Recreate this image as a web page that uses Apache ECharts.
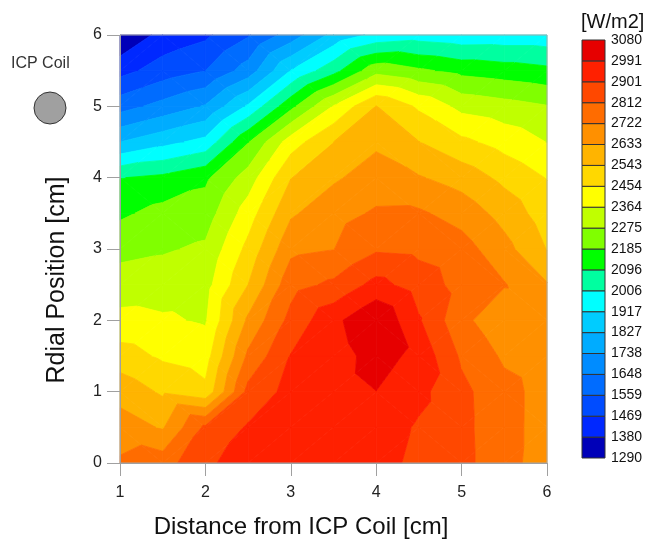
<!DOCTYPE html>
<html>
<head>
<meta charset="utf-8">
<script src="https://cdn.jsdelivr.net/npm/echarts@6/dist/echarts.min.js"></script>
<style>
  html, body { margin: 0; padding: 0; background: #ffffff; }
  #chart { width: 648px; height: 540px; }
</style>
</head>
<body>
<div id="chart"></div>
<script>
// Measurement nodes: distance from the ICP coil [cm] and radial position [cm]
const distances = [1, 1.5, 2, 2.5, 3, 3.5, 4, 4.5, 5, 5.5, 6];
const radialPositions = [0, 0.5, 1, 1.5, 2, 2.5, 3, 3.5, 4, 4.5, 5, 5.5, 6];

// Heat flux [W/m2] along each radial position, one value per distance
const fluxR00 = [2735, 2770, 2890, 2930, 2950, 2950, 2940, 2875, 2841, 2749, 2685];
const fluxR05 = [2675, 2625, 2830, 2910, 2950, 2955, 2950, 2890, 2838, 2749, 2690];
const fluxR10 = [2600, 2530, 2475, 2840, 2930, 2950, 2990, 2925, 2835, 2750, 2690];
const fluxR15 = [2494, 2440, 2414, 2740, 2905, 2945, 3030, 2964, 2798, 2708, 2680];
const fluxR20 = [2390, 2375, 2355, 2650, 2840, 2967, 3075, 2910, 2745, 2660, 2665];
const fluxR25 = [2317, 2325, 2330, 2543, 2780, 2830, 2930, 2860, 2780, 2728, 2640];
const fluxR30 = [2248, 2265, 2290, 2480, 2700, 2720, 2800, 2790, 2760, 2664, 2540];
const fluxR35 = [2169, 2215, 2230, 2409, 2620, 2690, 2733, 2735, 2687, 2600, 2496];
const fluxR40 = [2093, 2116, 2168, 2316, 2540, 2620, 2676, 2640, 2596, 2520, 2450];
const fluxR45 = [1827, 1889, 1945, 2180, 2410, 2543, 2617, 2545, 2475, 2420, 2362];
const fluxR50 = [1611, 1679, 1746, 1930, 2160, 2370, 2546, 2440, 2337, 2310, 2280];
const fluxR55 = [1438, 1511, 1559, 1690, 1920, 2066, 2245, 2200, 2160, 2140, 2118];
const fluxR60 = [1295, 1410, 1452, 1550, 1690, 1854, 1940, 1965, 1946, 1950, 1950];

// Contour level labels of the colour scale (low to high)
const levelLabels = ['1290', '1380', '1469', '1559', '1648', '1738', '1827', '1917', '2006', '2096',
  '2185', '2275', '2364', '2454', '2543', '2633', '2722', '2812', '2901', '2991', '3080'];

// Fill colour of each band between two consecutive levels (low to high)
const bandColors = ['#0000B8', '#0028FF', '#004CFF', '#006CFF', '#008CFF', '#00ACFF', '#00CCFF',
  '#00FFFF', '#00FFA0', '#00FF00', '#80FF00', '#C0FF00', '#FFFF00', '#FFD800', '#FFB400',
  '#FF9000', '#FF6C00', '#FF4800', '#FF2000', '#E60000'];

const fluxRows = [fluxR00, fluxR05, fluxR10, fluxR15, fluxR20, fluxR25, fluxR30,
  fluxR35, fluxR40, fluxR45, fluxR50, fluxR55, fluxR60];
const levels = levelLabels.map(Number);

// One item per grid cell: [x, y, column index, row index]
const cells = [];
for (let j = 0; j < radialPositions.length - 1; j++) {
  for (let i = 0; i < distances.length - 1; i++) {
    cells.push([distances[i], radialPositions[j], i, j]);
  }
}

// Keep the part of a polygon where sign * (value - level) >= 0 (linear interpolation on edges)
function clipPoly(poly, level, sign) {
  const out = [];
  for (let n = 0; n < poly.length; n++) {
    const a = poly[n], b = poly[(n + 1) % poly.length];
    const fa = sign * (a.v - level), fb = sign * (b.v - level);
    if (fa >= 0) out.push(a);
    if ((fa >= 0) !== (fb >= 0)) {
      const t = fa / (fa - fb);
      out.push({ p: [a.p[0] + t * (b.p[0] - a.p[0]), a.p[1] + t * (b.p[1] - a.p[1])], v: level });
    }
  }
  return out;
}

// Filled contour bands of one grid cell, split into two triangles along the higher diagonal
function renderContourCell(params, api) {
  const i = api.value(2), j = api.value(3);
  const corner = (ci, cj) => ({
    p: api.coord([distances[ci], radialPositions[cj]]),
    v: fluxRows[cj][ci]
  });
  const bl = corner(i, j), br = corner(i + 1, j), tr = corner(i + 1, j + 1), tl = corner(i, j + 1);
  const triangles = (bl.v + tr.v >= tl.v + br.v)
    ? [[bl, br, tr], [bl, tr, tl]]
    : [[bl, br, tl], [br, tr, tl]];
  const children = [];
  const nBands = bandColors.length;
  triangles.forEach(tri => {
    for (let k = 0; k < nBands; k++) {
      let poly = tri;
      if (k > 0) poly = clipPoly(poly, levels[k], 1);
      if (poly.length >= 3 && k < nBands - 1) poly = clipPoly(poly, levels[k + 1], -1);
      if (poly.length >= 3) {
        children.push({
          type: 'polygon',
          shape: { points: poly.map(q => q.p) },
          style: { fill: bandColors[k], stroke: bandColors[k], lineWidth: 0.8 }
        });
      }
    }
  });
  return { type: 'group', children };
}

// Colour scale boxes
function renderScaleBox(params, api) {
  const k = api.value(1);
  const p0 = api.coord([0, k]);
  const p1 = api.coord([1, k + 1]);
  return {
    type: 'rect',
    shape: { x: p0[0], y: p1[1], width: p1[0] - p0[0], height: p0[1] - p1[1] },
    style: { fill: bandColors[k], stroke: '#333333', lineWidth: 1 }
  };
}

const font = 'Liberation Sans, Arial, sans-serif';
const chart = echarts.init(document.getElementById('chart'), null, { renderer: 'canvas' });

chart.setOption({
  animation: false,
  backgroundColor: '#ffffff',
  grid: [
    { left: 120, top: 35, width: 427, height: 428, show: true, borderColor: '#a8a8a8', borderWidth: 1, backgroundColor: 'transparent', z: 10 },
    { left: 582, top: 40, width: 23, height: 418 }
  ],
  xAxis: [
    {
      gridIndex: 0, type: 'value', min: 1, max: 6, interval: 1, z: 10,
      axisLine: { show: true, lineStyle: { color: '#a0a0a0' } },
      axisTick: { show: true, length: 13, lineStyle: { color: '#a0a0a0' } },
      axisLabel: { fontSize: 16, color: '#222', margin: 22, fontFamily: font },
      splitLine: { show: false }
    },
    { gridIndex: 1, type: 'value', min: 0, max: 1, show: false }
  ],
  yAxis: [
    {
      gridIndex: 0, type: 'value', min: 0, max: 6, interval: 1, z: 10,
      axisLine: { show: true, lineStyle: { color: '#a0a0a0' } },
      axisTick: { show: true, length: 13, lineStyle: { color: '#a0a0a0' } },
      axisLabel: { fontSize: 16, color: '#222', margin: 18, fontFamily: font },
      splitLine: { show: false }
    },
    {
      gridIndex: 1, type: 'value', min: 0, max: bandColors.length, interval: 1, position: 'right',
      axisLine: { show: false }, axisTick: { show: false }, splitLine: { show: false },
      axisLabel: {
        fontSize: 14, color: '#111', margin: 6, fontFamily: font,
        formatter: v => levelLabels[Math.round(v)]
      }
    }
  ],
  series: [
    {
      type: 'custom', xAxisIndex: 0, yAxisIndex: 0, silent: true,
      renderItem: renderContourCell, data: cells
    },
    {
      type: 'custom', xAxisIndex: 1, yAxisIndex: 1, silent: true,
      renderItem: renderScaleBox, data: bandColors.map((c, k) => [0, k])
    }
  ],
  graphic: [
    { type: 'text', x: 301, y: 527, style: { text: 'Distance from ICP Coil [cm]', font: '24px ' + font, fill: '#111', align: 'center', verticalAlign: 'middle' } },
    { type: 'text', x: 57, y: 280, rotation: Math.PI / 2, style: { text: 'Rdial Position [cm]', font: '25px ' + font, fill: '#111', align: 'center', verticalAlign: 'middle' } },
    { type: 'text', x: 581, y: 12, style: { text: '[W/m2]', font: '20px ' + font, fill: '#111' } },
    { type: 'text', x: 11, y: 56, style: { text: 'ICP Coil', font: '16px ' + font, fill: '#333' } },
    { type: 'circle', shape: { cx: 50, cy: 108, r: 16 }, style: { fill: '#a0a0a0', stroke: '#333333', lineWidth: 1 } }
  ]
});
</script>
</body>
</html>
